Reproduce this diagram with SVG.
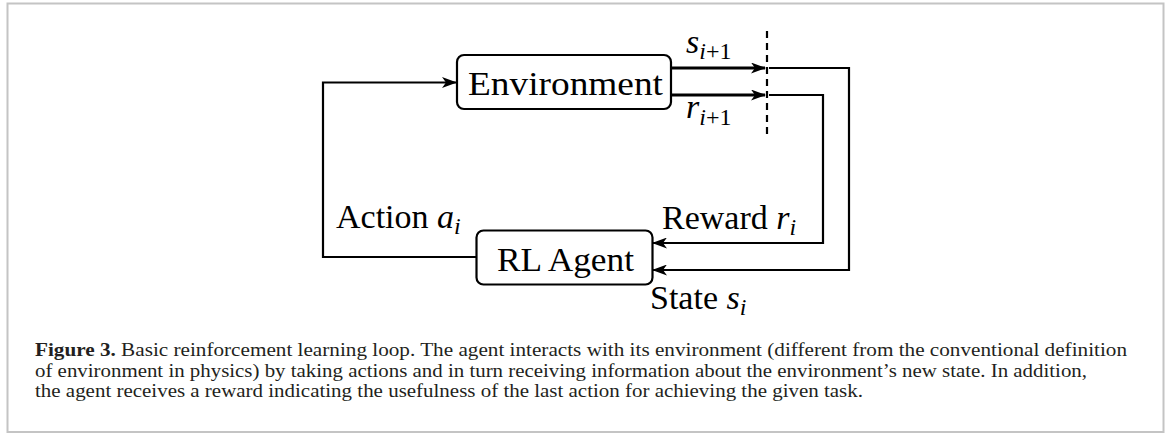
<svg xmlns="http://www.w3.org/2000/svg" width="1167" height="434" viewBox="0 0 1167 434">
<style>
.box{fill:#fff;stroke:#000;stroke-width:2.2}
.lbl{font-family:"Liberation Serif","DejaVu Serif",serif;font-size:34px;fill:#000}
.mi{font-style:italic}
.sub{font-size:24px}
.ln{fill:none;stroke:#000;stroke-width:2.2}
.thick{stroke-width:3}
.cap{font-family:"Liberation Serif","DejaVu Serif",serif;font-size:19.5px;fill:#231f20}
</style>
<defs>
<marker id="ah" viewBox="0 0 15 11" refX="14" refY="5.5" markerWidth="15" markerHeight="11" markerUnits="userSpaceOnUse" orient="auto">
<path d="M0,0 L15,5.5 L0,11 L4,5.5 Z" fill="#000"/>
</marker>
</defs>
<rect x="7.5" y="3.5" width="1156" height="428.5" fill="#fff" stroke="#c4c4c4" stroke-width="2"/>
<g id="connectors">
<path class="ln" d="M476,257 H323 V82.5 H456" marker-end="url(#ah)"/>
<path class="ln thick" d="M671,68 H765" marker-end="url(#ah)"/>
<path class="ln thick" d="M671,95 H765" marker-end="url(#ah)"/>
<path class="ln" d="M767,31 V137" stroke-dasharray="7,5" stroke-width="2.4"/>
<path class="ln" d="M769,68 H849 V270 H653" marker-end="url(#ah)"/>
<path class="ln" d="M769,95 H823 V243 H653" marker-end="url(#ah)"/>
</g>
<g id="environment">
<rect class="box" x="457" y="55" width="214" height="54" rx="7"/>
<text class="lbl" x="468" y="95" textLength="195" lengthAdjust="spacingAndGlyphs">Environment</text>
</g>
<g id="agent">
<rect class="box" x="476.5" y="230.5" width="176" height="54" rx="7"/>
<text class="lbl" x="497" y="271" textLength="137" lengthAdjust="spacingAndGlyphs">RL Agent</text>
</g>
<g id="labels">
<text class="lbl" x="686" y="53"><tspan class="mi">s</tspan><tspan class="sub" dy="6"><tspan class="mi">i</tspan>+1</tspan></text>
<text class="lbl" x="686" y="118"><tspan class="mi">r</tspan><tspan class="sub" dy="7"><tspan class="mi">i</tspan>+1</tspan></text>
<text class="lbl" x="336" y="228">Action <tspan class="mi">a</tspan><tspan class="sub mi" dy="6">i</tspan></text>
<text class="lbl" x="662" y="229">Reward <tspan class="mi">r</tspan><tspan class="sub mi" dy="6">i</tspan></text>
<text class="lbl" x="650" y="309">State <tspan class="mi">s</tspan><tspan class="sub mi" dy="6">i</tspan></text>
</g>
<g id="caption">
<text class="cap" x="35" y="356" textLength="1092" lengthAdjust="spacingAndGlyphs"><tspan font-weight="bold">Figure 3.</tspan> Basic reinforcement learning loop. The agent interacts with its environment (different from the conventional definition</text>
<text class="cap" x="35" y="376.5" textLength="1052" lengthAdjust="spacingAndGlyphs">of environment in physics) by taking actions and in turn receiving information about the environment’s new state. In addition,</text>
<text class="cap" x="35" y="397" textLength="828" lengthAdjust="spacingAndGlyphs">the agent receives a reward indicating the usefulness of the last action for achieving the given task.</text>
</g>
</svg>
